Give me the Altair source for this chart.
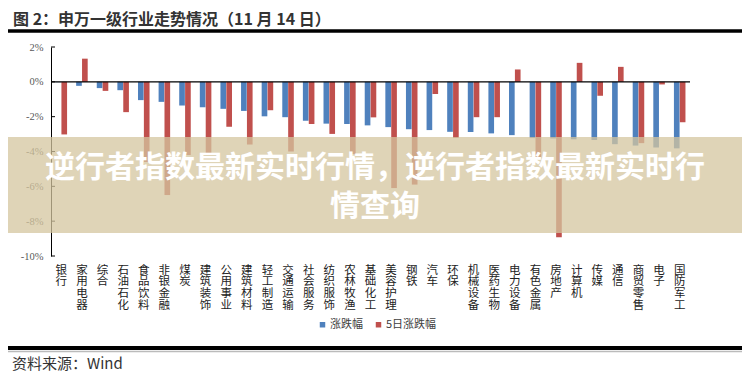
import altair as alt
import pandas as pd

categories = ["银行", "家用电器", "综合", "石油石化", "食品饮料", "非银金融", "煤炭", "建筑装饰",
              "公用事业", "建筑材料", "轻工制造", "交通运输", "社会服务", "纺织服饰", "农林牧渔",
              "基础化工", "美容护理", "钢铁", "汽车", "环保", "机械设备", "医药生物", "电力设备",
              "有色金属", "房地产", "计算机", "传媒", "通信", "商贸零售", "电子", "国防军工"]
change = [-0.02, -0.23, -0.36, -0.48, -1.05, -1.15, -1.36, -1.46,
          -1.55, -1.67, -1.98, -2.03, -2.23, -2.40, -2.42,
          -2.50, -2.60, -2.72, -2.77, -2.87, -2.88, -2.96, -3.06,
          -3.23, -3.25, -3.30, -3.34, -3.58, -3.66, -3.77, -3.82]
change_5d = [-3.02, 1.33, -0.52, -1.74, -4.6, -6.5, -4.2, -4.2,
             -2.58, -3.6, -1.63, -4.0, -2.42, -2.99, -4.15,
             -2.04, -6.1, -5.9, -0.70, -3.22, -2.03, -2.03, 0.71,
             -4.4, -8.93, 1.09, -0.80, 0.86, -3.52, -0.15, -2.32]
series_names = ["涨跌幅", "5日涨跌幅"]
series_colors = ["#4F81BD", "#C0504D"]
y_ticks = [2, 0, -2, -4, -6, -8, -10]
title_text = "图 2：申万一级行业走势情况（11 月 14 日）"
source_text = "资料来源：Wind"
banner_lines = ["逆行者指数最新实时行情，逆行者指数最新实时行", "情查询"]

rows = []
for c, a, b in zip(categories, change, change_5d):
    rows.append({"industry": c, "series": series_names[0], "value": a})
    rows.append({"industry": c, "series": series_names[1], "value": b})
df = pd.DataFrame(rows)

W, H = 639, 209
PAD = {"left": 43, "top": 39, "right": 52, "bottom": 117}
FULL_L = -PAD["left"]
FULL_R = W + PAD["right"]

x_scale = alt.Scale(domain=categories, paddingInner=0.44, paddingOuter=0.22)
y_scale = alt.Scale(domain=[-10, 2], nice=False, zero=False)
y_axis = alt.Axis(title=None, values=y_ticks, labelExpr="datum.value + '%'", grid=False,
                  ticks=False, domainColor="#000", domainWidth=1,
                  labelFont="Liberation Serif", labelFontSize=10.5,
                  labelColor="#595959", labelPadding=8)

bars = alt.Chart(df).mark_bar().encode(
    x=alt.X("industry:N", sort=categories, scale=x_scale,
            axis=alt.Axis(title=None, domain=False, ticks=False, tickSize=0, labelAngle=0,
                          labelExpr="split(datum.label, '')", labelFont="Noto Sans CJK SC",
                          labelFontSize=11.5, labelLineHeight=11.8, labelColor="#222",
                          labelPadding=8, labelBaseline="top", labelOverlap=False, labelBound=False)),
    xOffset=alt.XOffset("series:N", sort=series_names,
                        scale=alt.Scale(domain=series_names, paddingInner=0.04)),
    y=alt.Y("value:Q", scale=y_scale, axis=y_axis),
    y2=alt.datum(0),
    color=alt.Color("series:N", scale=alt.Scale(domain=series_names, range=series_colors),
                    legend=alt.Legend(title=None, orient="none", legendX=266, legendY=272,
                                      direction="horizontal", symbolType="square", symbolSize=30,
                                      symbolStrokeWidth=0, labelFontSize=11,
                                      labelFont="Noto Sans CJK SC", labelColor="#404040",
                                      columnPadding=10, labelOffset=2)),
)

tick_df = pd.DataFrame({"value": y_ticks})
tick_rules = alt.Chart(tick_df).mark_rule(color="#000", strokeWidth=1).encode(
    y=alt.Y("value:Q", scale=y_scale, axis=y_axis), x=alt.value(0), x2=alt.value(4))

zero_line = alt.Chart(pd.DataFrame({"value": [0]})).mark_rule(color="#000", strokeWidth=1.3).encode(
    y=alt.Y("value:Q", scale=y_scale, axis=y_axis), x=alt.value(0), x2=alt.value(W))

one = pd.DataFrame({"a": [0]})
banner = alt.Chart(one).mark_rect(color="#D4C69F", opacity=0.75).encode(
    x=alt.value(FULL_L), x2=alt.value(FULL_R), y=alt.value(90), y2=alt.value(186))

banner_text1 = alt.Chart(pd.DataFrame({"t": [banner_lines[0]]})).mark_text(
    font="Noto Sans CJK SC", fontSize=30, fontWeight="bold", color="white",
    align="center", baseline="middle").encode(text="t:N", x=alt.value(324), y=alt.value(121))
banner_text2 = alt.Chart(pd.DataFrame({"t": [banner_lines[1]]})).mark_text(
    font="Noto Sans CJK SC", fontSize=30, fontWeight="bold", color="white",
    align="center", baseline="middle").encode(text="t:N", x=alt.value(324), y=alt.value(160))

title = alt.Chart(pd.DataFrame({"t": [title_text]})).mark_text(
    font="Noto Sans CJK SC", fontSize=16, fontWeight="bold", color="#333",
    align="left", baseline="middle").encode(text="t:N", x=alt.value(-38), y=alt.value(-27.5))

top_line = alt.Chart(one).mark_rule(color="#000", strokeWidth=3.5).encode(
    x=alt.value(FULL_L), x2=alt.value(FULL_R), y=alt.value(-16))
bottom_line = alt.Chart(one).mark_rule(color="#000", strokeWidth=4).encode(
    x=alt.value(FULL_L), x2=alt.value(FULL_R), y=alt.value(301))
bottom_line2 = alt.Chart(one).mark_rule(color="#bbb", strokeWidth=1.5).encode(
    x=alt.value(FULL_L), x2=alt.value(FULL_R), y=alt.value(304.5))

footer = alt.Chart(pd.DataFrame({"t": [source_text]})).mark_text(
    font="Noto Sans CJK SC", fontSize=15, color="#333",
    align="left", baseline="middle").encode(text="t:N", x=alt.value(-39), y=alt.value(316.5))

chart = alt.layer(
    bars, tick_rules, zero_line, banner, banner_text1, banner_text2,
    title, top_line, bottom_line, bottom_line2, footer
).properties(
    width=W, height=H,
    autosize=alt.AutoSizeParams(type="none"),
    padding=PAD,
).configure_view(stroke=None)

chart.save("out.html", embed_options={"renderer": "svg", "actions": False})
